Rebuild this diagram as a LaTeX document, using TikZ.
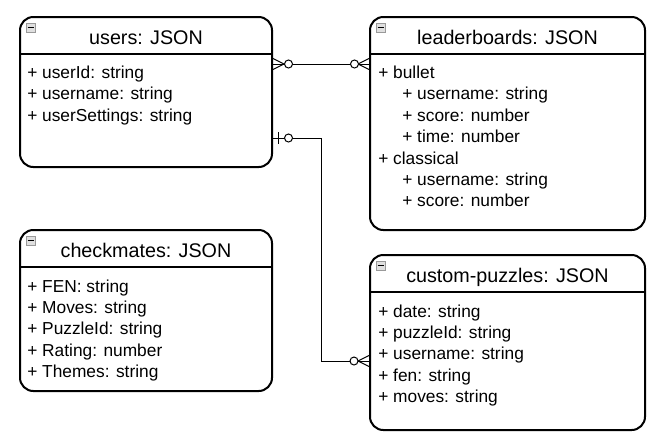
\documentclass[tikz,border=0pt]{standalone}
\usepackage{fontspec}
\setmainfont{Liberation Sans}
\usetikzlibrary{positioning, calc}

\tikzset{
    entity/.style={draw, line width=1.5pt, rounded corners=10pt, fill=white, inner sep=0pt},
    title/.style={anchor=base, inner sep=0pt, font=\fontsize{14.8pt}{17pt}\selectfont},
    row/.style={anchor=base west, inner sep=0pt, font=\fontsize{13pt}{16pt}\selectfont},
    sep/.style={line width=1.5pt},
    link/.style={line width=0.75pt},
    ring/.style={circle, draw, line width=0.75pt, fill=white, minimum size=6pt, inner sep=0pt},
    minbox/.style={draw=gray!80, fill=gray!25, line width=0.5pt, minimum size=6.75pt, inner sep=0pt}
}

\begin{document}
\begin{tikzpicture}[x=0.75pt, y=-0.75pt]
    \useasboundingbox (0,0) rectangle (663,447);

    % Entities
    \node [entity, minimum width=189pt, minimum height=112.5pt] (users) at (146,92) {};
    \node [entity, minimum width=206.25pt, minimum height=159.75pt] (leaderboards) at (507.5,123.5) {};
    \node [entity, minimum width=189pt, minimum height=120.75pt] (checkmates) at (146,310.5) {};
    \node [entity, minimum width=206.25pt, minimum height=131.25pt] (custom) at (507.5,342.5) {};

    % Headers
    \foreach \e/\t in {users/{users: JSON}, leaderboards/{leaderboards: JSON}, checkmates/{checkmates: JSON}, custom/{custom-puzzles: JSON}} {
        \draw [sep] ($(\e.north west)+(0,37.5)$) -- ($(\e.north east)+(0,37.5)$);
        \node [title] (\e-title) at ($(\e.north)+(0,28)$) {\t};
        \node [minbox] (\e-icon) at ($(\e.north west)+(11.5,11.5)$) {};
        \draw [line width=0.9pt] ($(\e-icon.center)+(-3,0)$) -- ($(\e-icon.center)+(3,0)$);
    }

    % Fields
    \foreach \t [count=\i from 0] in {{+ userId: string}, {+ username: string}, {+ userSettings: string}}
        \node [row] (users-row\i) at ($(users.north west)+(8,62.5+21.4*\i)$) {\t};
    \foreach \d/\t [count=\i from 0] in {0/{+ bullet}, 24/{+ username: string}, 24/{+ score: number}, 24/{+ time: number}, 0/{+ classical}, 24/{+ username: string}, 24/{+ score: number}}
        \node [row] (leaderboards-row\i) at ($(leaderboards.north west)+(9+\d,62.5+21.4*\i)$) {\t};
    \foreach \t [count=\i from 0] in {{+ FEN: string}, {+ Moves: string}, {+ PuzzleId: string}, {+ Rating: number}, {+ Themes: string}}
        \node [row] (checkmates-row\i) at ($(checkmates.north west)+(8,63+21.4*\i)$) {\t};
    \foreach \t [count=\i from 0] in {{+ date: string}, {+ puzzleId: string}, {+ username: string}, {+ fen: string}, {+ moves: string}}
        \node [row] (custom-row\i) at ($(custom.north west)+(9,63+21.4*\i)$) {\t};

    % Connection points
    \coordinate (u-lb) at ($(users.north east)+(0,48)$);
    \coordinate (lb-u) at (leaderboards.west |- u-lb);
    \coordinate (u-cp) at ($(users.north east)+(0,122)$);
    \coordinate (cp-u) at ($(custom.north west)+(0,107)$);
    \coordinate (bend) at (321,0);

    % users -- leaderboards (many to many)
    \draw [link] (u-lb) -- (lb-u);
    \draw [link] ($(u-lb)+(0,-5.5)$) -- ($(u-lb)+(11,0)$) -- ($(u-lb)+(0,5.5)$);
    \draw [link] ($(lb-u)+(0,-5.5)$) -- ($(lb-u)+(-11,0)$) -- ($(lb-u)+(0,5.5)$);
    \node [ring] at ($(u-lb)+(15.5,0)$) {};
    \node [ring] at ($(lb-u)+(-14.5,0)$) {};

    % users -- custom-puzzles (one to many)
    \draw [link] (u-cp) -- (bend |- u-cp) -- (bend |- cp-u) -- (cp-u);
    \draw [link] ($(u-cp)+(5,-6)$) -- ($(u-cp)+(5,6)$);
    \draw [link] ($(cp-u)+(0,-5.5)$) -- ($(cp-u)+(-11,0)$) -- ($(cp-u)+(0,5.5)$);
    \node [ring] at ($(u-cp)+(15.5,0)$) {};
    \node [ring] at ($(cp-u)+(-15,0)$) {};
\end{tikzpicture}
\end{document}
